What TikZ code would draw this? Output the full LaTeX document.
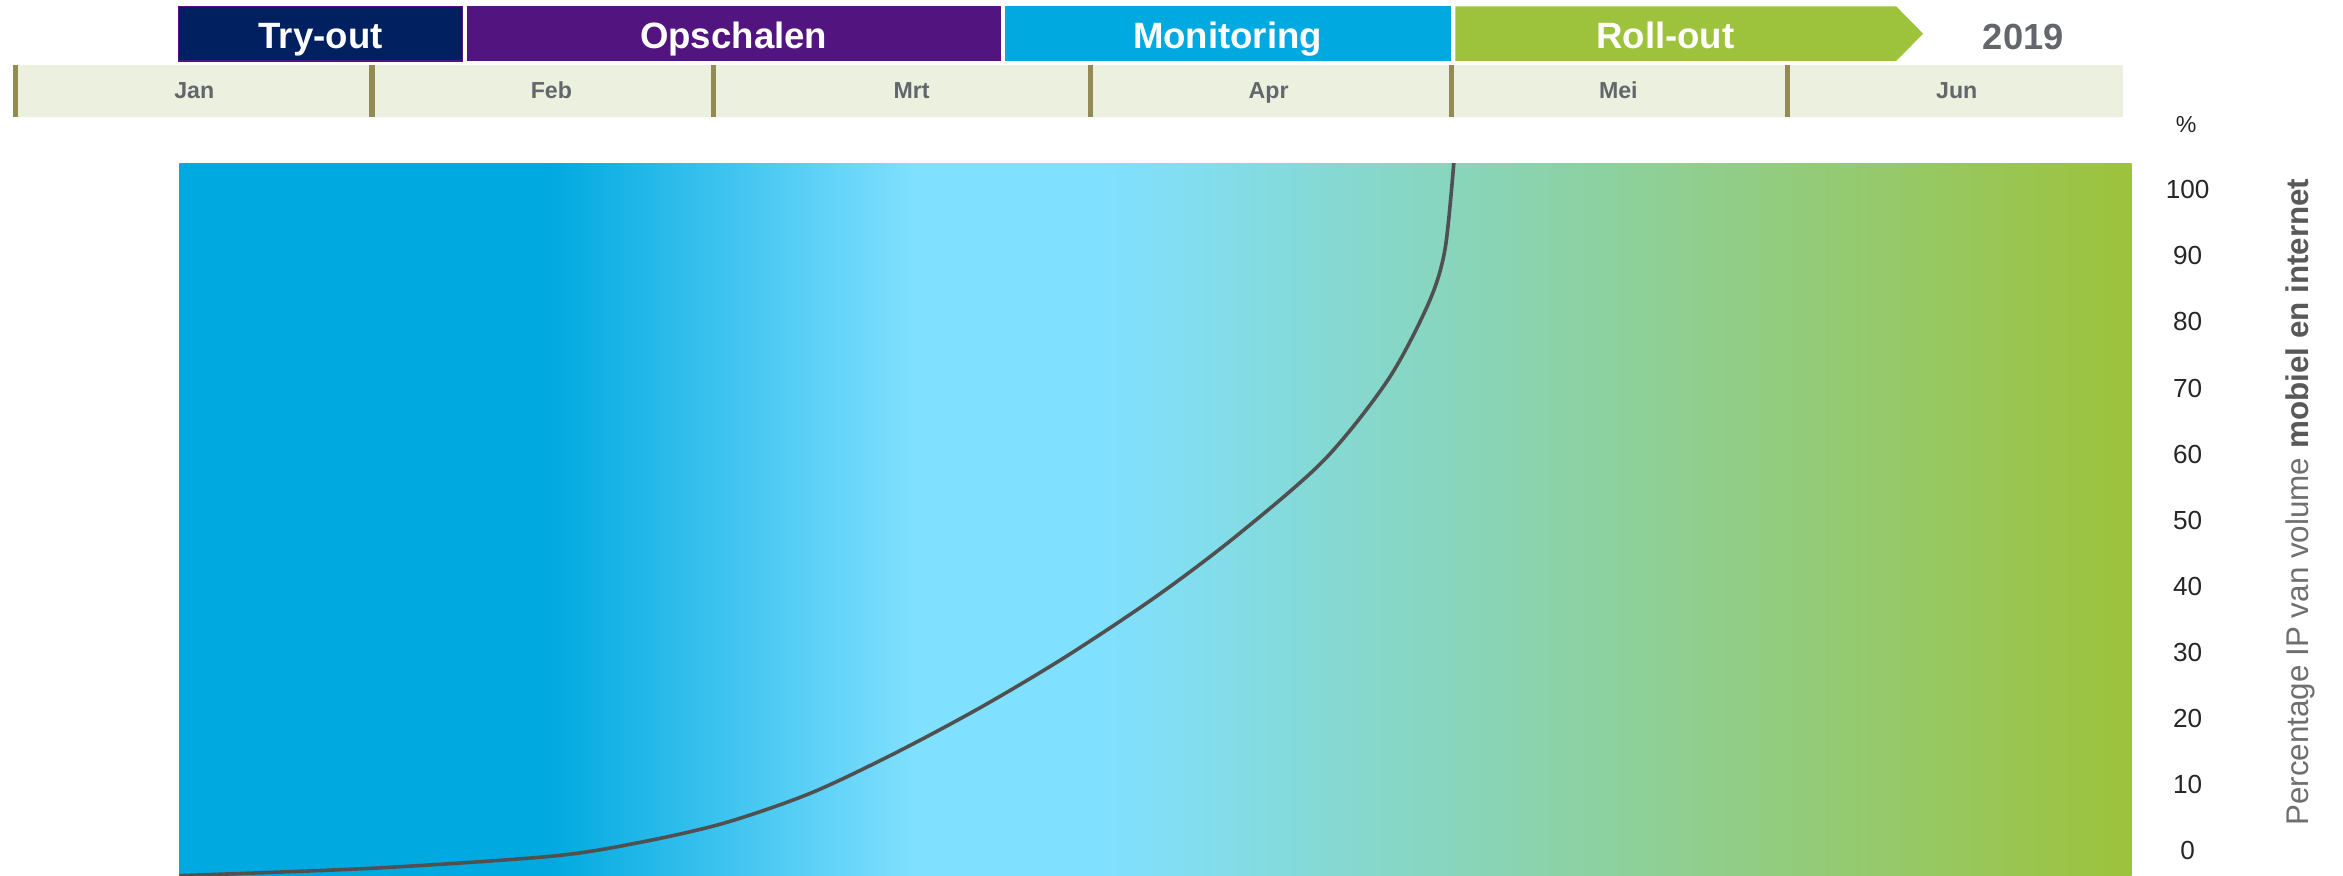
\documentclass[tikz,border=0pt]{standalone}
\usepackage{fontspec}
\setmainfont{Liberation Sans}
\definecolor{tryc}{RGB}{0,32,96}
\definecolor{opsc}{RGB}{82,21,127}
\definecolor{monc}{RGB}{0,169,224}
\definecolor{rolc}{RGB}{157,194,59}
\definecolor{stripc}{RGB}{235,241,222}
\definecolor{tickc}{RGB}{148,138,84}
\definecolor{monthc}{RGB}{99,102,106}
\definecolor{numc}{RGB}{38,38,38}
\definecolor{axlabc}{RGB}{111,111,111}
\definecolor{axboldc}{RGB}{89,89,89}
\definecolor{curvec}{RGB}{80,80,80}
\definecolor{sA}{RGB}{0,169,224}
\definecolor{sB}{RGB}{128,224,255}
\definecolor{sC}{RGB}{137,212,180}
\definecolor{sD}{RGB}{157,194,59}
\pgfdeclarehorizontalshading{bgshade}{100bp}{color(0bp)=(sA); color(34.45bp)=(sA); color(43.82bp)=(sB); color(48.68bp)=(sB); color(58.70bp)=(sC); color(75bp)=(sD); color(100bp)=(sD)}
\begin{document}
\begin{tikzpicture}[x=1pt,y=-1pt,
  phasebox/.style={rectangle, inner sep=0pt, outer sep=0pt, minimum height=36.5pt},
  phasetext/.style={anchor=base, inner sep=0pt, text=white, font=\fontsize{24.5}{29}\selectfont\bfseries},
  monthtext/.style={anchor=base, inner sep=0pt, text=monthc, font=\fontsize{15.5}{18}\selectfont\bfseries},
  ticktext/.style={anchor=base, inner sep=0pt, text=numc, font=\fontsize{17.5}{21}\selectfont},
  monthtick/.style={draw=tickc, line width=3.5pt}
]
\useasboundingbox (0,0) rectangle (1568,586.2);

% phase bars
\node[phasebox, fill=tryc, draw=opsc, line width=0.8pt, minimum width=190pt] (tryout) at (214.5,22.55) {};
\node[phasebox, fill=opsc, minimum width=357.8pt] (opschalen) at (491.1,22.55) {};
\node[phasebox, fill=monc, minimum width=298.4pt] (monitoring) at (821.8,22.55) {};
\fill[rolc] (974,4.3) -- (1269,4.3) -- (1287,22.55) -- (1269,40.8) -- (974,40.8) -- cycle;
\coordinate (rollout) at (1121,22.55);
\node[phasetext] (tryoutlbl) at (214.5,32.2) {Try-out};
\node[phasetext] (opschalenlbl) at (491,32.2) {Opschalen};
\node[phasetext] (monitoringlbl) at (821.5,32.2) {Monitoring};
\node[phasetext] (rolloutlbl) at (1114.5,32.2) {Roll-out};
\node[anchor=base, inner sep=0pt, text=monthc, font=\fontsize{24.3}{29}\selectfont\bfseries] (year) at (1354,33) {2019};

% month strip
\node[rectangle, fill=stripc, inner sep=0pt, outer sep=0pt, minimum width=1412pt, minimum height=34.5pt] (strip) at (714.5,60.75) {};
\foreach \tx [count=\i] in {10.2,249,477.7,730,971.3,1196}{
  \coordinate (tk\i top) at (\tx,43.5);
  \coordinate (tk\i bot) at (\tx,78);
  \draw[monthtick] (tk\i top) -- (tk\i bot);
}
\node[monthtext] (jan) at (130,65.8) {Jan};
\node[monthtext] (feb) at (369,65.8) {Feb};
\node[monthtext] (mrt) at (610,65.8) {Mrt};
\node[monthtext] (apr) at (849,65.8) {Apr};
\node[monthtext] (mei) at (1083,65.8) {Mei};
\node[monthtext] (jun) at (1309.5,65.8) {Jun};

% gradient field
\path[shading=bgshade] (120,109.7) rectangle (1426.5,586.2);
\begin{scope}
\clip (120,109.7) rectangle (1426.5,586.2);
\draw[curvec, line width=2.4pt, line join=round] plot[smooth, tension=0.5] coordinates {
 (120,586) (250,581) (369,573) (427,564) (484,551) (542,531) (599,504) (657,473)
 (714,439) (774,399) (827,359) (886,308) (929,254) (956,203) (967,167) (973,108)};
\end{scope}

% axis
\node[anchor=base, inner sep=0pt, text=numc, font=\fontsize{15.5}{18}\selectfont] (pct) at (1463,88.8) {\%};
\foreach \v [count=\k from 0] in {100,90,80,70,60,50,40,30,20,10,0}{
  \node[ticktext] (n\v) at (1464,133+44.24*\k) {\v};
}
\node[anchor=base, rotate=90, inner sep=0pt, text=axlabc, font=\fontsize{21}{25}\selectfont] (ylabel) at (1545,336)
  {Percentage IP van volume \textcolor{axboldc}{\bfseries mobiel en internet}};
\end{tikzpicture}
\end{document}
